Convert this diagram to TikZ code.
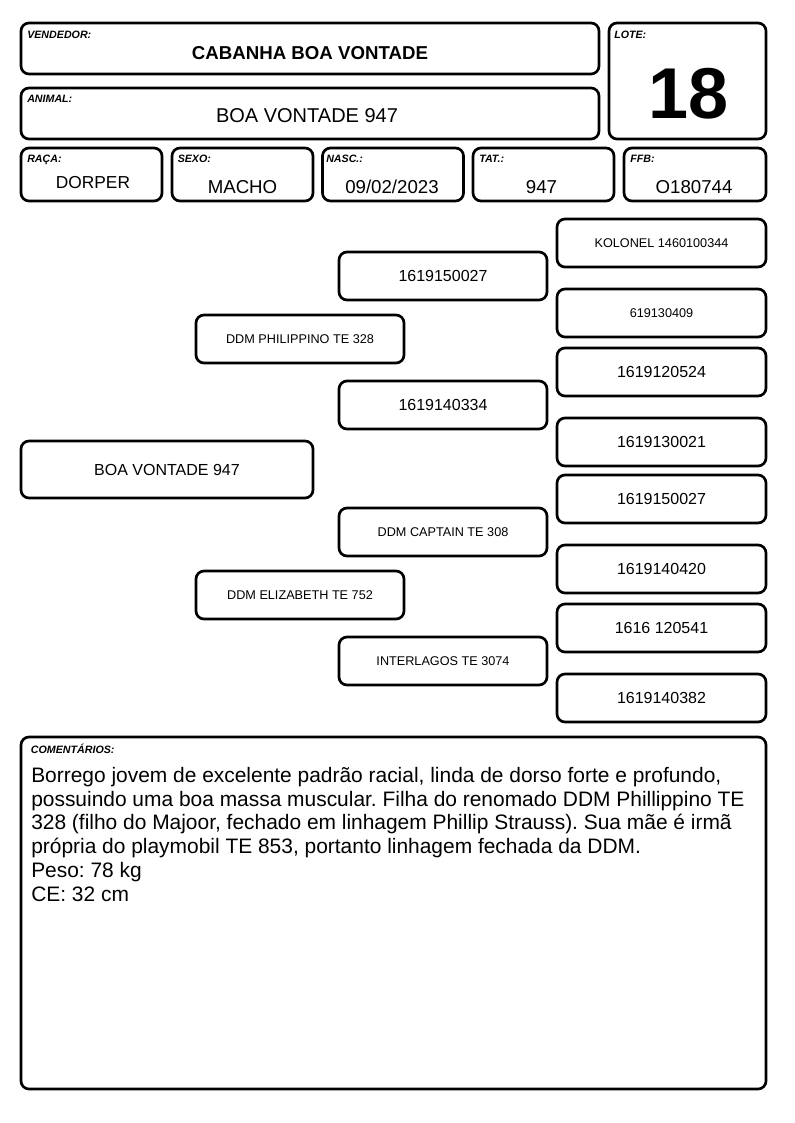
\documentclass[tikz,border=0pt]{standalone}
\usepackage{fontspec}
\setmainfont{Liberation Sans}
\usetikzlibrary{positioning}
\frenchspacing

\tikzset{
  card/.style={draw, line width=2pt, rounded corners=6pt, inner sep=0pt},
  tag/.style={anchor=base west, inner sep=0pt, font=\fontsize{8}{9.5}\selectfont\bfseries\itshape},
  val/.style={anchor=base, inner sep=0pt, font=\fontsize{14}{16}\selectfont},
  rowcard/.style={card, minimum width=105.75pt, minimum height=39.75pt},
  gen1/.style={card, minimum width=219pt, minimum height=42.75pt, font=\fontsize{12}{14}\selectfont},
  gen2/.style={card, minimum width=156pt, minimum height=36pt, font=\fontsize{9.5}{11}\selectfont},
  gen3/.style={card, minimum width=156pt, minimum height=36pt, font=\fontsize{12}{14}\selectfont},
  gen4/.style={card, minimum width=156.75pt, minimum height=36pt, font=\fontsize{12}{14}\selectfont},
  small/.style={font=\fontsize{9.5}{11}\selectfont}
}

\begin{document}
\begin{tikzpicture}[x=0.75pt, y=-0.75pt]
\useasboundingbox (0,0) rectangle (794,1123);

% header
\node[card, minimum width=433.5pt, minimum height=38.25pt] (vendedor) at (310,48.5) {};
\node[tag] (vendedortag) at (27,39) {VENDEDOR:};
\node[val, font=\fontsize{14}{16}\selectfont\bfseries] (vendedorval) at (310,60) {CABANHA BOA VONTADE};

\node[card, minimum width=433.5pt, minimum height=38.25pt] (animal) at (310,113.5) {};
\node[tag] (animaltag) at (27,102.5) {ANIMAL:};
\node[val, font=\fontsize{15}{17}\selectfont] (animalval) at (307,122.7) {BOA VONTADE 947};

\node[card, minimum width=117.75pt, minimum height=87pt] (lote) at (687.5,81) {};
\node[tag] (lotetag) at (614,39) {LOTE:};
\node[val, font=\fontsize{54}{60}\selectfont\bfseries] (loteval) at (688.5,118.3) {18};

% row of data
\node[rowcard] (raca) at (91.5,174.5) {};
\node[rowcard] (sexo) at (242.5,174.5) {};
\node[rowcard] (nasc) at (393,174.5) {};
\node[rowcard] (tat) at (543.5,174.5) {};
\node[rowcard, minimum width=106.5pt] (ffb) at (695,174.5) {};
\node[tag] (racatag) at (27,162.5) {RAÇA:};
\node[tag] (sexotag) at (177.5,163) {SEXO:};
\node[tag] (nasctag) at (326,163) {NASC.:};
\node[tag] (tattag) at (479,163) {TAT.:};
\node[tag] (ffbtag) at (630,163) {FFB:};
\node[val, font=\fontsize{13}{15}\selectfont] (racaval) at (93,188.3) {DORPER};
\node[val] (sexoval) at (242.5,193.3) {MACHO};
\node[val] (nascval) at (392,193.3) {09/02/2023};
\node[val] (tatval) at (541.5,193.3) {947};
\node[val] (ffbval) at (694,193.3) {O180744};

% pedigree
\node[gen1] (animalped) at (167,469.5) {BOA VONTADE 947};

\node[gen2] (pai) at (300,339) {DDM PHILIPPINO TE 328};
\node[gen2] (mae) at (300,595) {DDM ELIZABETH TE 752};

\node[gen3] (avopp) at (443,276) {1619150027};
\node[gen3] (avomp) at (443,405) {1619140334};
\node[gen3, small] (avopm) at (443,532) {DDM CAPTAIN TE 308};
\node[gen3, small] (avomm) at (443,661) {INTERLAGOS TE 3074};

\node[gen4, small] (bis1) at (661.5,243) {KOLONEL 1460100344};
\node[gen4, small] (bis2) at (661.5,313) {619130409};
\node[gen4] (bis3) at (661.5,372) {1619120524};
\node[gen4] (bis4) at (661.5,442) {1619130021};
\node[gen4] (bis5) at (661.5,499) {1619150027};
\node[gen4] (bis6) at (661.5,569) {1619140420};
\node[gen4] (bis7) at (661.5,628) {1616 120541};
\node[gen4] (bis8) at (661.5,698) {1619140382};

% comments
\node[card, minimum width=558.75pt, minimum height=264pt] (comentarios) at (393.5,913) {};
\node[tag] (comentariostag) at (30.7,753) {COMENTÁRIOS:};
\node[anchor=north west, inner sep=0pt, align=left, font=\fontsize{15.7}{17.8}\selectfont] (comentariosval) at (31,767)
  {Borrego jovem de excelente padrão racial, linda de dorso forte e profundo,\\
   possuindo uma boa massa muscular. Filha do renomado DDM Phillippino TE\\
   328 (filho do Majoor, fechado em linhagem Phillip Strauss). Sua mãe é irmã\\
   própria do playmobil TE 853, portanto linhagem fechada da DDM.\\
   Peso: 78 kg\\
   CE: 32 cm};
\end{tikzpicture}
\end{document}
